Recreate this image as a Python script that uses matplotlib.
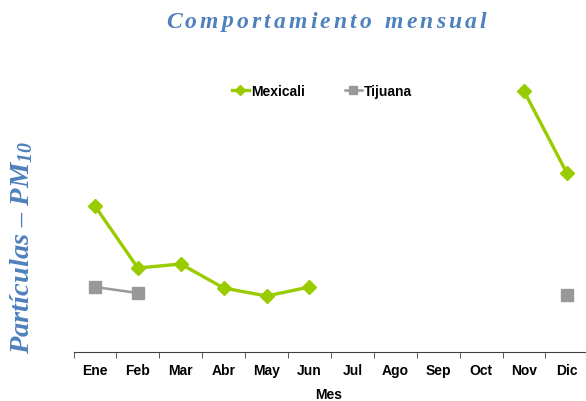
import matplotlib
matplotlib.use('Agg')
import matplotlib.pyplot as plt
import numpy as np

meses = ['Ene', 'Feb', 'Mar', 'Abr', 'May', 'Jun', 'Jul', 'Ago', 'Sep', 'Oct', 'Nov', 'Dic']
mexicali = [73, 42, 44, 32, 28, 32.5, np.nan, np.nan, np.nan, np.nan, 130.5, 89.5]
tijuana = [32.5, 29.5, np.nan, np.nan, np.nan, np.nan, np.nan, np.nan, np.nan, np.nan, np.nan, 28.5]

AZUL = '#4F81BD'
VERDE = '#99CC00'
GRIS = '#999999'

plt.rcParams['mathtext.fontset'] = 'custom'
plt.rcParams['mathtext.bf'] = 'Liberation Serif:bold:italic'
plt.rcParams['mathtext.it'] = 'Liberation Serif:bold:italic'
plt.rcParams['mathtext.rm'] = 'Liberation Serif:bold:italic'

W, H = 586, 402
fig = plt.figure(figsize=(W / 100, H / 100), dpi=100, facecolor='white')
ax = fig.add_axes([73.5 / W, 49 / H, (W - 73.5) / W, 300 / H])

x = np.arange(len(meses))
ax.plot(x, mexicali, color=VERDE, lw=2.4, marker='D', ms=7, label='Mexicali')
ax.plot(x, tijuana, color=GRIS, lw=1.8, marker='s', ms=8, label='Tijuana')

ax.set_xlim(-0.5, -0.5 + (W - 73.5) / 42.9)
ax.set_ylim(0, 150)
for s in ['top', 'right', 'left']:
    ax.spines[s].set_visible(False)
ax.spines['bottom'].set_color('#404040')
ax.set_yticks([])
ax.set_xticks(x)
ax.set_xticklabels(meses, fontfamily='Liberation Sans', fontweight='bold', fontsize=10)
ax.tick_params(axis='x', which='major', length=0, pad=8)
ax.set_xticks(np.arange(-0.5, 11.5, 1), minor=True)
ax.tick_params(axis='x', which='minor', length=4, color='#404040', direction='out')
fig.text(329 / W, 1 - 395 / H, 'Mes', ha='center', va='center',
         family='Liberation Sans', weight='bold', size=10)

leg = ax.legend(loc='center', bbox_to_anchor=(322 / W, 1 - 92 / H), bbox_transform=fig.transFigure,
                ncol=2, frameon=False, handlelength=1.2, handletextpad=0.15, columnspacing=2.9,
                markerscale=0.7, prop={'family': 'Liberation Sans', 'weight': 'bold', 'size': 10})

# titulo con espaciado entre letras
titulo = 'Comportamiento mensual'
fig.canvas.draw()
r = fig.canvas.get_renderer()
props = dict(family='Liberation Serif', weight='bold', style='italic', size=17, color=AZUL)
anchos = []
for c in titulo:
    t = fig.text(0, 0, c if c != ' ' else 'n', **props)
    anchos.append(t.get_window_extent(r).width)
    t.remove()
extra = 3.1
total = sum(anchos) + extra * (len(titulo) - 1)
x0 = 329 - total / 2
for c, w in zip(titulo, anchos):
    if c != ' ':
        fig.text(x0 / W, 1 - 22 / H, c, va='center', ha='left', **props)
    x0 += w * (0.55 if c == ' ' else 1) + extra

fig.text(22 / W, 1 - 247 / H, r'Partículas – PM$_{\mathbf{10}}$', rotation=90, va='center', ha='center',
         family='Liberation Serif', weight='bold', style='italic', size=20.5, color=AZUL)

fig.savefig('out.png', dpi=100, facecolor='white')
